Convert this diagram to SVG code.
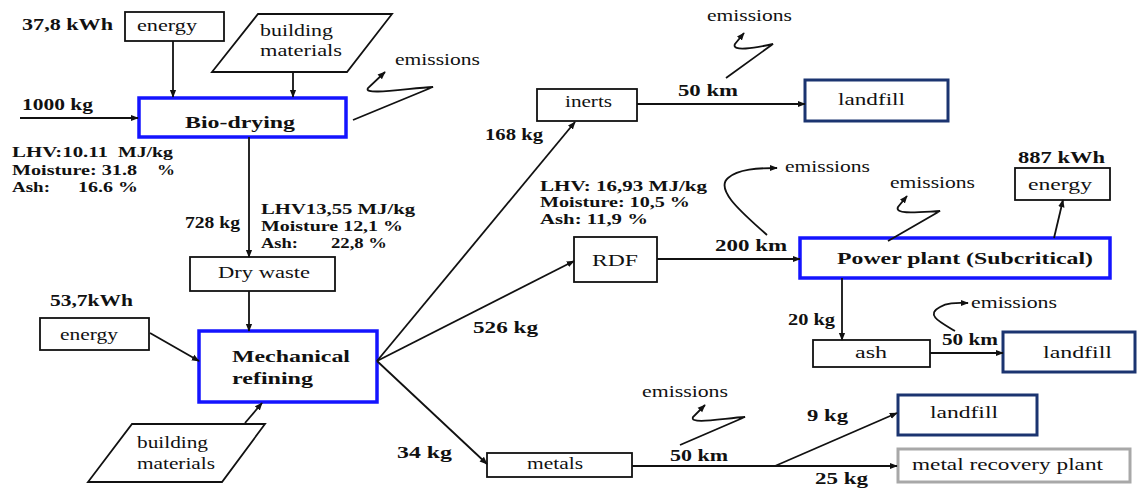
<svg xmlns="http://www.w3.org/2000/svg" width="1138" height="489" viewBox="0 0 1138 489">
  <style>
    .box { fill: #fff; stroke: #111; stroke-width: 1.8; }
    .blue { fill: #fff; stroke: #1414ff; stroke-width: 3.5; }
    .navy { fill: #fff; stroke: #1b3470; stroke-width: 3; }
    .gray { fill: #fff; stroke: #a8a8a8; stroke-width: 3; }
    .ln { fill: none; stroke: #111; stroke-width: 1.8; }
    text { font-family: "Liberation Serif", "Times New Roman", Times, serif; font-size: 16px; fill: #111; }
    .b { font-weight: bold; }
    .h { font-size: 17px; }
    .s { font-size: 15px; }
  </style>
  <defs>
    <marker id="ah" viewBox="0 0 10 10" refX="9" refY="5" markerWidth="8" markerHeight="8" orient="auto" markerUnits="userSpaceOnUse">
      <path d="M0,1 L10,5 L0,9 z" fill="#111"/>
    </marker>
  </defs>

  <!-- process inputs for bio-drying -->
  <g id="energy-in-1">
    <rect class="box" x="125" y="12" width="99" height="29"/>
    <text x="137" y="31" textLength="60" lengthAdjust="spacingAndGlyphs">energy</text>
  </g>
  <g id="materials-in-1">
    <polygon class="box" points="258,14 392,14 347,72 212,72"/>
    <text x="260" y="36" textLength="73" lengthAdjust="spacingAndGlyphs">building</text>
    <text x="260" y="56" textLength="82" lengthAdjust="spacingAndGlyphs">materials</text>
  </g>
  <g id="bio-drying">
    <rect class="blue" x="139" y="98" width="207" height="39"/>
    <text class="b h" x="185" y="128" textLength="110" lengthAdjust="spacingAndGlyphs">Bio-drying</text>
  </g>
  <g id="dry-waste">
    <rect class="box" x="190" y="257" width="145" height="34"/>
    <text x="218" y="278" textLength="92" lengthAdjust="spacingAndGlyphs">Dry waste</text>
  </g>
  <g id="energy-in-2">
    <rect class="box" x="40" y="318" width="109" height="32"/>
    <text x="60" y="340" textLength="58" lengthAdjust="spacingAndGlyphs">energy</text>
  </g>
  <g id="mechanical-refining">
    <rect class="blue" x="199" y="331" width="178" height="71"/>
    <text class="b h" x="232" y="362" textLength="118" lengthAdjust="spacingAndGlyphs">Mechanical</text>
    <text class="b h" x="232" y="384" textLength="81" lengthAdjust="spacingAndGlyphs">refining</text>
  </g>
  <g id="materials-in-2">
    <polygon class="box" points="132,424 265,424 222,482 88,482"/>
    <text x="137" y="448" textLength="71" lengthAdjust="spacingAndGlyphs">building</text>
    <text x="137" y="469" textLength="78" lengthAdjust="spacingAndGlyphs">materials</text>
  </g>

  <!-- refined fractions -->
  <g id="inerts">
    <rect class="box" x="537" y="89" width="100" height="32"/>
    <text x="565" y="107" textLength="47" lengthAdjust="spacingAndGlyphs">inerts</text>
  </g>
  <g id="landfill-1">
    <rect class="navy" x="805" y="80" width="143" height="41"/>
    <text x="838" y="105" textLength="67" lengthAdjust="spacingAndGlyphs">landfill</text>
  </g>
  <g id="rdf">
    <rect class="box" x="574" y="237" width="83" height="45"/>
    <text x="592" y="266" textLength="46" lengthAdjust="spacingAndGlyphs">RDF</text>
  </g>
  <g id="power-plant">
    <rect class="blue" x="800" y="238" width="310" height="40"/>
    <text class="b h" x="837" y="264" textLength="256" lengthAdjust="spacingAndGlyphs">Power plant (Subcritical)</text>
  </g>
  <g id="energy-out">
    <rect class="box" x="1015" y="168" width="95" height="32"/>
    <text x="1028" y="190" textLength="64" lengthAdjust="spacingAndGlyphs">energy</text>
  </g>
  <g id="ash">
    <rect class="box" x="813" y="340" width="117" height="27"/>
    <text x="855" y="358" textLength="32" lengthAdjust="spacingAndGlyphs">ash</text>
  </g>
  <g id="landfill-2">
    <rect class="navy" x="1003" y="332" width="132" height="40"/>
    <text x="1043" y="358" textLength="69" lengthAdjust="spacingAndGlyphs">landfill</text>
  </g>
  <g id="metals">
    <rect class="box" x="487" y="453" width="145" height="24"/>
    <text x="527" y="469" textLength="56" lengthAdjust="spacingAndGlyphs">metals</text>
  </g>
  <g id="landfill-3">
    <rect class="navy" x="898" y="395" width="139" height="40"/>
    <text x="930" y="418" textLength="68" lengthAdjust="spacingAndGlyphs">landfill</text>
  </g>
  <g id="metal-recovery">
    <rect class="gray" x="898" y="449" width="232" height="33"/>
    <text x="912" y="470" textLength="191" lengthAdjust="spacingAndGlyphs">metal recovery plant</text>
  </g>

  <!-- flows and emission arrows -->
  <g id="connectors" class="ln" marker-end="url(#ah)">
    <line x1="173" y1="41" x2="173" y2="97"/>
    <line x1="293" y1="72" x2="293" y2="97"/>
    <line x1="20" y1="118" x2="138" y2="118"/>
    <line x1="249" y1="137" x2="249" y2="257"/>
    <line x1="249" y1="291" x2="249" y2="331"/>
    <line x1="150" y1="333" x2="199" y2="361"/>
    <line x1="245" y1="423" x2="262" y2="403"/>
    <line x1="377" y1="361" x2="575" y2="122"/>
    <line x1="377" y1="361" x2="574" y2="261"/>
    <line x1="377" y1="361" x2="487" y2="464"/>
    <line x1="637" y1="104" x2="805" y2="104"/>
    <line x1="657" y1="259" x2="800" y2="259"/>
    <line x1="1054" y1="238" x2="1063" y2="200"/>
    <line x1="842" y1="278" x2="842" y2="340"/>
    <line x1="930" y1="353" x2="1003" y2="353"/>
    <line x1="632" y1="466" x2="897" y2="466"/>
    <line x1="775" y1="466" x2="897" y2="413"/>
    <path d="M353,120 L433,87 C410,88 362,96 368,88 L385,72"/>
    <path d="M726,78 L773,44 C755,48 731,52 735,44 L744,33"/>
    <path d="M767,235 C745,215 714,190 728,178 C738,169 758,168 777,168"/>
    <path d="M888,241 L940,211 C920,212 894,215 898,207 L907,196"/>
    <path d="M955,331 C940,322 925,315 940,307 C948,302 958,303 968,303"/>
    <path d="M680,445 L745,417 C725,418 689,425 693,417 L705,405"/>
  </g>

  <!-- quantities and properties -->
  <g id="labels">
    <text class="b" x="22" y="30" textLength="91" lengthAdjust="spacingAndGlyphs">37,8 kWh</text>
    <text class="b" x="22" y="110" textLength="71" lengthAdjust="spacingAndGlyphs">1000 kg</text>
    <text class="b s" x="12" y="157" textLength="96" lengthAdjust="spacingAndGlyphs">LHV:10.11</text>
    <text class="b s" x="118" y="157" textLength="55" lengthAdjust="spacingAndGlyphs">MJ/kg</text>
    <text class="b s" x="12" y="175" textLength="125" lengthAdjust="spacingAndGlyphs">Moisture: 31.8</text>
    <text class="b s" x="157" y="175" textLength="18" lengthAdjust="spacingAndGlyphs">%</text>
    <text class="b s" x="12" y="192" textLength="38" lengthAdjust="spacingAndGlyphs">Ash:</text>
    <text class="b s" x="78" y="192" textLength="60" lengthAdjust="spacingAndGlyphs">16.6 %</text>
    <text class="b" x="185" y="228" textLength="55" lengthAdjust="spacingAndGlyphs">728 kg</text>
    <text class="b s" x="261" y="214" textLength="154" lengthAdjust="spacingAndGlyphs">LHV13,55 MJ/kg</text>
    <text class="b s" x="261" y="231" textLength="142" lengthAdjust="spacingAndGlyphs">Moisture 12,1 %</text>
    <text class="b s" x="261" y="248" textLength="37" lengthAdjust="spacingAndGlyphs">Ash:</text>
    <text class="b s" x="331" y="248" textLength="56" lengthAdjust="spacingAndGlyphs">22,8 %</text>
    <text class="b" x="50" y="306" textLength="83" lengthAdjust="spacingAndGlyphs">53,7kWh</text>
    <text x="395" y="65" textLength="85" lengthAdjust="spacingAndGlyphs">emissions</text>
    <text class="b" x="485" y="140" textLength="58" lengthAdjust="spacingAndGlyphs">168 kg</text>
    <text class="b" x="678" y="96" textLength="60" lengthAdjust="spacingAndGlyphs">50 km</text>
    <text x="707" y="21" textLength="85" lengthAdjust="spacingAndGlyphs">emissions</text>
    <text class="b s" x="540" y="191" textLength="167" lengthAdjust="spacingAndGlyphs">LHV: 16,93 MJ/kg</text>
    <text class="b s" x="540" y="207" textLength="150" lengthAdjust="spacingAndGlyphs">Moisture: 10,5 %</text>
    <text class="b s" x="540" y="224" textLength="108" lengthAdjust="spacingAndGlyphs">Ash: 11,9 %</text>
    <text x="785" y="172" textLength="85" lengthAdjust="spacingAndGlyphs">emissions</text>
    <text class="b" x="715" y="251" textLength="72" lengthAdjust="spacingAndGlyphs">200 km</text>
    <text class="b" x="473" y="333" textLength="65" lengthAdjust="spacingAndGlyphs">526 kg</text>
    <text x="890" y="188" textLength="85" lengthAdjust="spacingAndGlyphs">emissions</text>
    <text class="b" x="1018" y="163" textLength="87" lengthAdjust="spacingAndGlyphs">887 kWh</text>
    <text class="b" x="788" y="325" textLength="47" lengthAdjust="spacingAndGlyphs">20 kg</text>
    <text class="b" x="942" y="345" textLength="56" lengthAdjust="spacingAndGlyphs">50 km</text>
    <text x="971" y="308" textLength="86" lengthAdjust="spacingAndGlyphs">emissions</text>
    <text class="b" x="397" y="458" textLength="55" lengthAdjust="spacingAndGlyphs">34 kg</text>
    <text x="642" y="397" textLength="86" lengthAdjust="spacingAndGlyphs">emissions</text>
    <text class="b" x="670" y="461" textLength="58" lengthAdjust="spacingAndGlyphs">50 km</text>
    <text class="b" x="807" y="421" textLength="41" lengthAdjust="spacingAndGlyphs">9 kg</text>
    <text class="b" x="815" y="484" textLength="53" lengthAdjust="spacingAndGlyphs">25 kg</text>
  </g>
</svg>
